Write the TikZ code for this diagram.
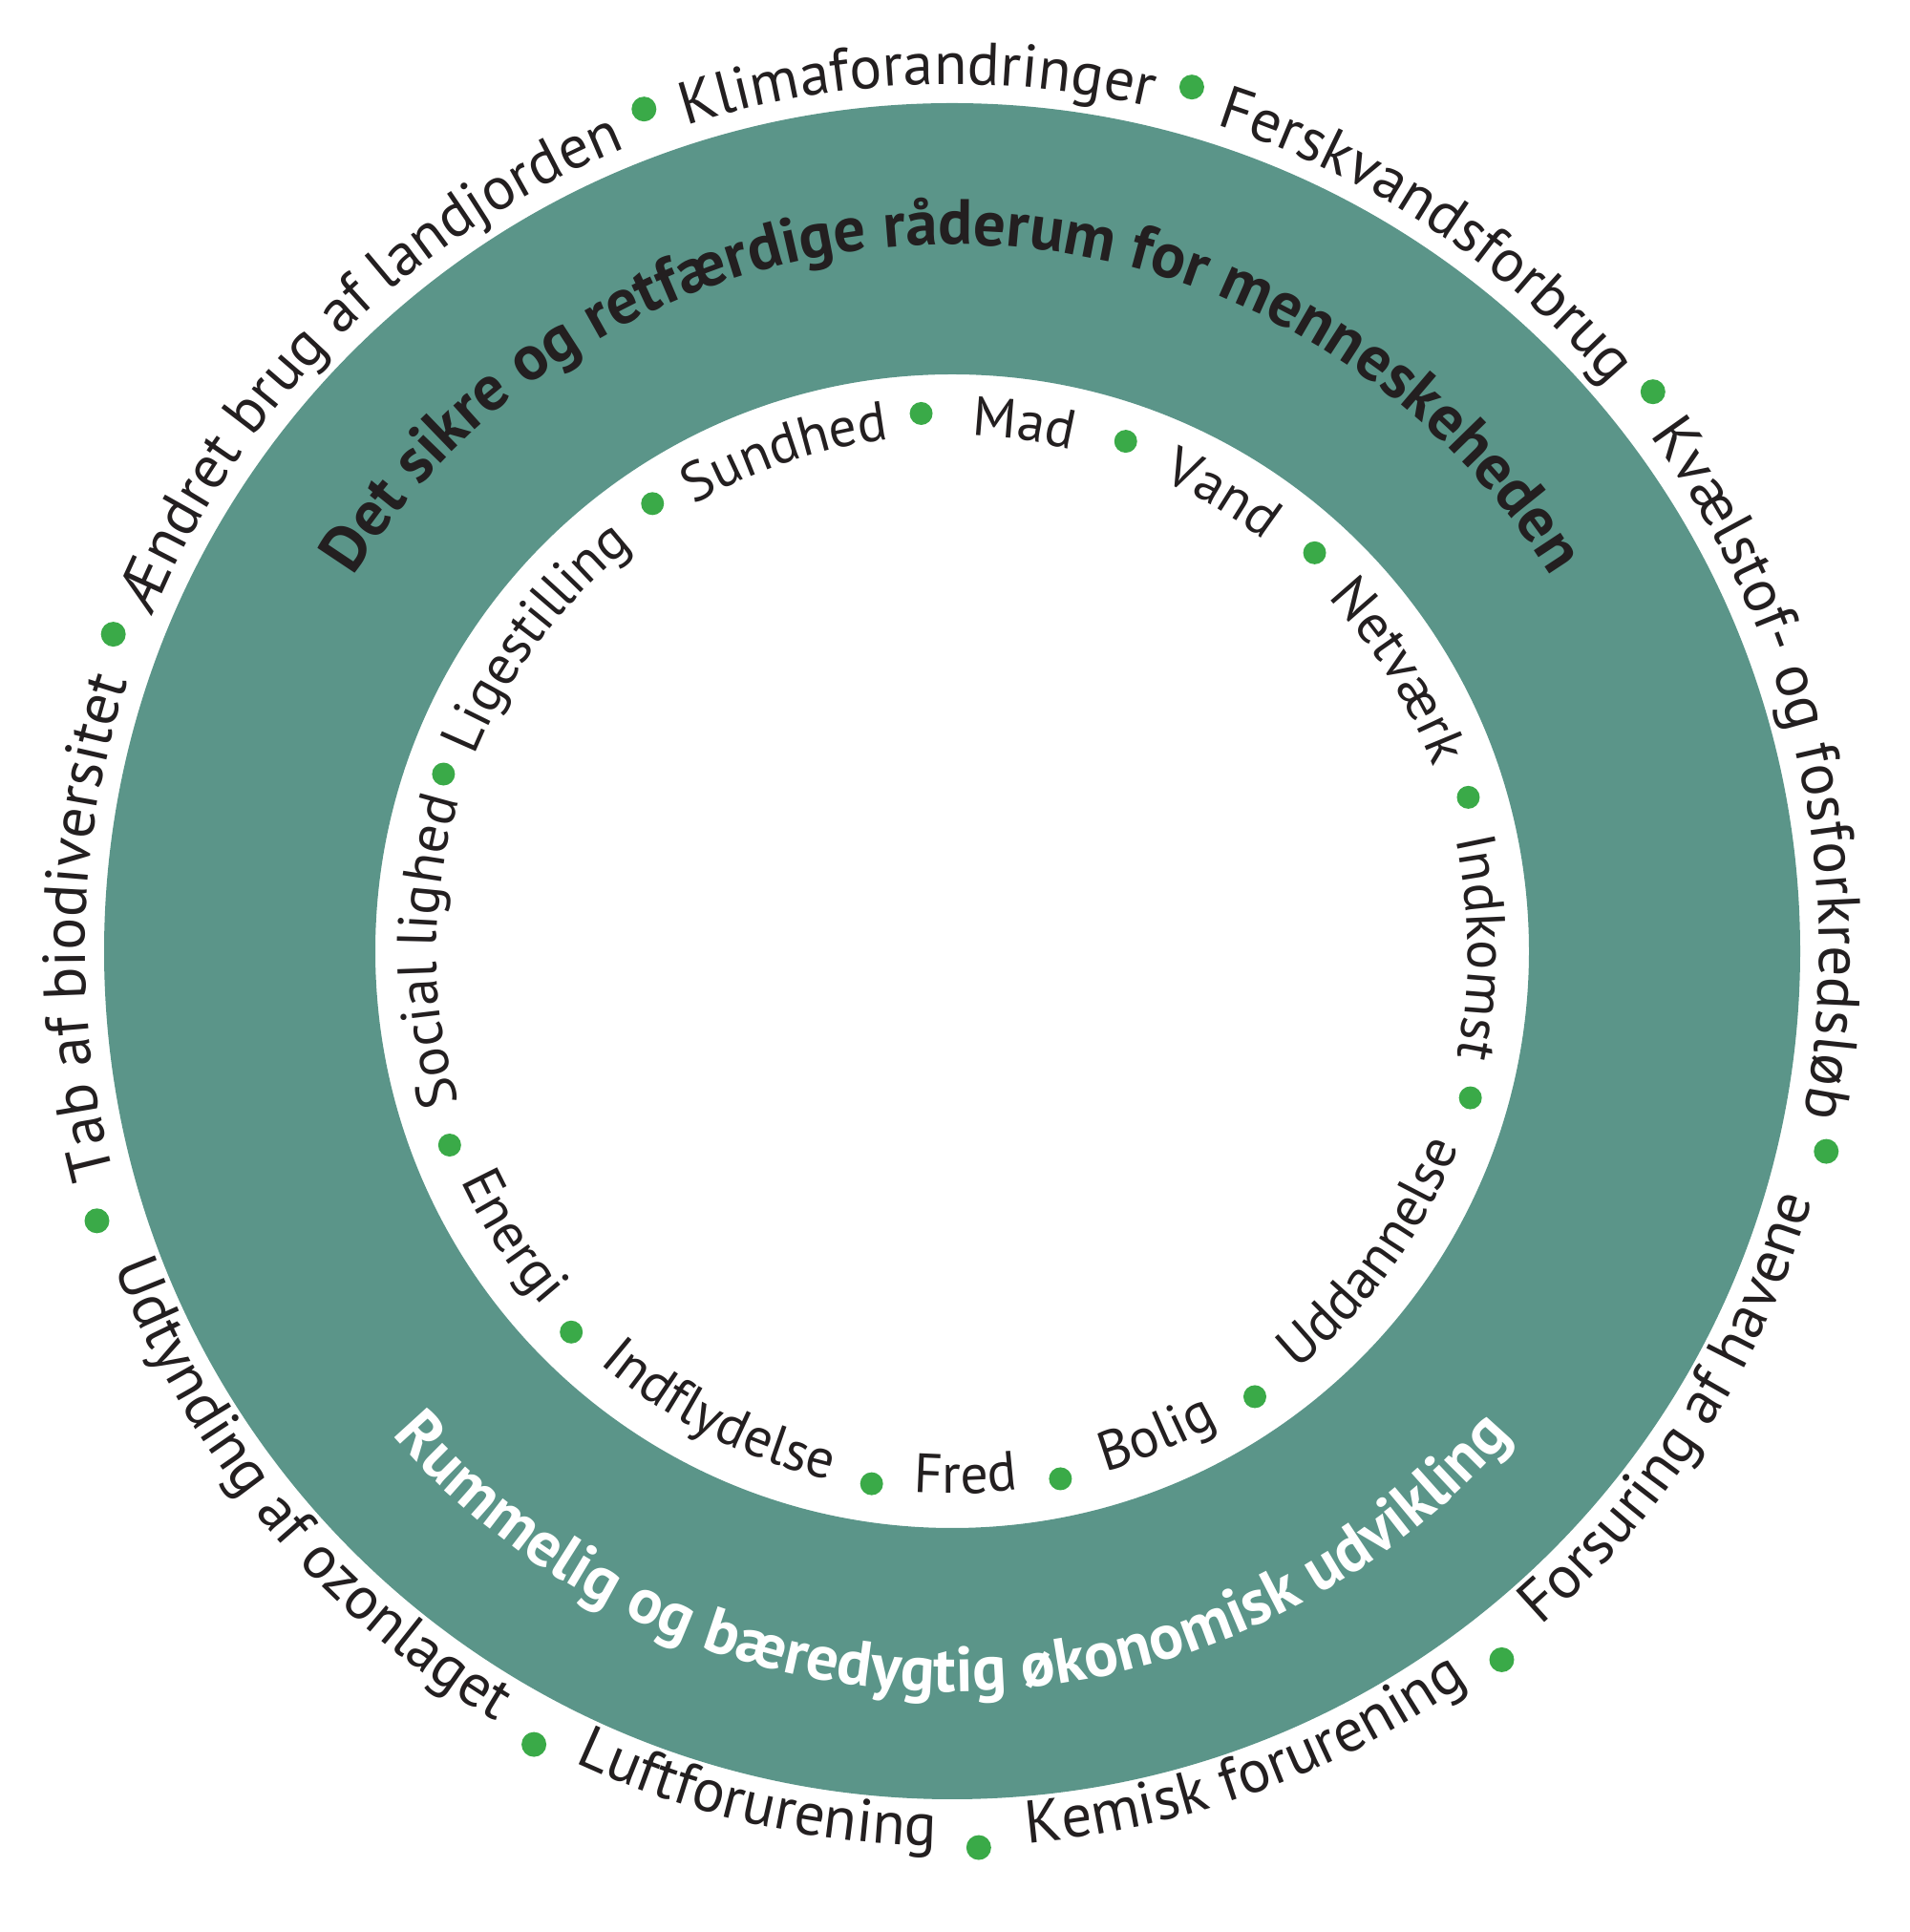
\documentclass[tikz,border=0pt]{standalone}
\usepackage{fontspec}
\setmainfont{PT Sans}
\usepackage{xcolor}
\usepackage{tikz}
\usetikzlibrary{decorations.text}

\definecolor{ringgreen}{HTML}{5B9589}
\definecolor{dotgreen}{HTML}{3AAA48}
\definecolor{inkdark}{HTML}{231F20}

\newcommand\outerfont{\fontsize{18}{20}\selectfont\color{inkdark}}
\newcommand\innerfont{\fontsize{16.5}{18}\selectfont\color{inkdark}}
\newcommand\ringfont{\fontsize{19}{21}\bfseries\selectfont}
% clockwise text (reads over the top)
\newcommand\cwlabel[4]{\path[decorate,decoration={text along path,text align=center,text={|#4|#3}}]
  (c) ++({#1+45}:#2) arc[start angle={#1+45}, end angle={#1-45}, radius=#2];}
% counter-clockwise text (reads under the bottom)
\newcommand\ccwlabel[4]{\path[decorate,decoration={text along path,text align=center,text={|#4|#3}}]
  (c) ++({#1-45}:#2) arc[start angle={#1-45}, end angle={#1+45}, radius=#2];}

\begin{document}
\begin{tikzpicture}[
  dot/.style={fill=dotgreen, draw=none}
]
\useasboundingbox (0,0) rectangle (20,20.23);
\coordinate (c) at (9.97,10.27);

% Ring
\fill[ringgreen, even odd rule] (c) circle[radius=8.88] (c) circle[radius=6.04];

% Outer dots
\foreach \a in {110.1, 74.5, 38.6, -12.9, -52.2, -88.3, -117.8, -162.5, 159.3}
  \fill[dot] (c) ++(\a:9.39) circle[radius=0.13];

% Inner dots
\foreach \a in {93.3, 71.2, 47.7, 16.6, -15.8, -55.8, -78.4, -98.6, -135, -158.9, 160.8, 123.8}
  \fill[dot] (c) ++(\a:5.64) circle[radius=0.12];

% Outer labels
\cwlabel{92.3}{9.08}{Klimaforandringer}{\outerfont}
\cwlabel{56.5}{9.08}{Ferskvandsforbrug}{\outerfont}
\cwlabel{12.8}{9.08}{Kvælstof- og fosforkredsløb}{\outerfont}
\cwlabel{178.4}{9.08}{Tab af biodiversitet}{\outerfont}
\cwlabel{134.7}{9.08}{Ændret brug af landjorden}{\outerfont}
\ccwlabel{-32.5}{9.37}{Forsuring af havene}{\outerfont}
\ccwlabel{-70}{9.37}{Kemisk forurening}{\outerfont}
\ccwlabel{-103}{9.37}{Luftforurening}{\outerfont}
\ccwlabel{-140}{9.37}{Udtynding af ozonlaget}{\outerfont}

% Inner labels
\cwlabel{82.2}{5.4}{Mad}{\innerfont}
\cwlabel{59.4}{5.4}{Vand}{\innerfont}
\cwlabel{32.1}{5.4}{Netværk}{\innerfont}
\cwlabel{0.4}{5.4}{Indkomst}{\innerfont}
\cwlabel{180}{5.4}{Social lighed}{\innerfont}
\cwlabel{143}{5.4}{Ligestilling}{\innerfont}
\cwlabel{108.5}{5.4}{Sundhed}{\innerfont}
\ccwlabel{-35.8}{5.68}{Uddannelse}{\innerfont}
\ccwlabel{-67.1}{5.68}{Bolig}{\innerfont}
\ccwlabel{-88.5}{5.68}{Fred}{\innerfont}
\ccwlabel{-116.8}{5.68}{Indflydelse}{\innerfont}
\ccwlabel{-147}{5.68}{Energi}{\innerfont}

% Ring texts
\path[decorate,decoration={text along path,text align=center,
  text={|\ringfont\color{inkdark}|Det sikre og retfærdige råderum for menneskeheden}}]
  (c) ++(170:7.4) arc[start angle=170, end angle=10, radius=7.4];
\path[decorate,decoration={text along path,text align=center,
  text={|\ringfont\color{white}|Rummelig og bæredygtig økonomisk udvikling}}]
  (c) ++(-170:7.75) arc[start angle=-170, end angle=-10, radius=7.75];
\end{tikzpicture}
\end{document}
